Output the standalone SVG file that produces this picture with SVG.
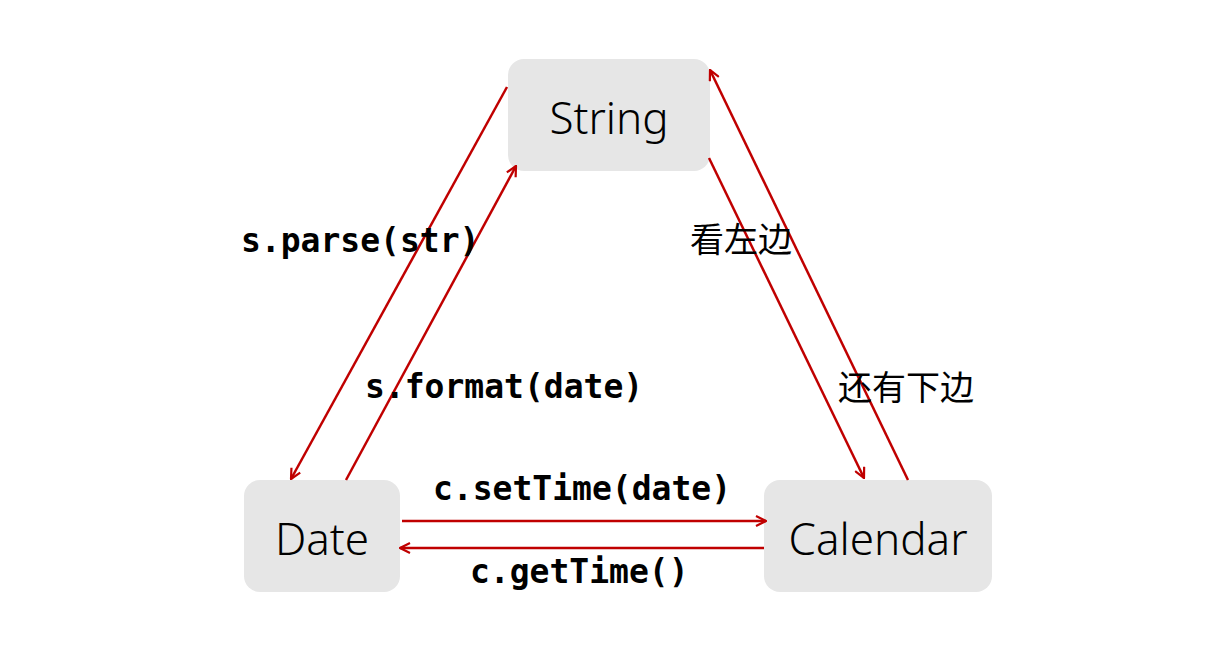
<svg xmlns="http://www.w3.org/2000/svg" width="1228" height="668" viewBox="0 0 1228 668">
<style>
.n{fill:#e6e6e6}
.t{font-family:"Noto Sans","Liberation Sans",sans-serif;font-weight:300;font-size:44px;fill:#000;text-anchor:middle}
.c{stroke:#c00000;stroke-width:2.5;fill:none;marker-end:url(#a)}
.m{font-family:"DejaVu Sans Mono","Liberation Mono",monospace;font-weight:bold;font-size:33px;fill:#000}
.z{font-family:"Noto Sans CJK SC",sans-serif;font-size:34px;fill:#000}
</style>
<defs><marker id="a" viewBox="0 0 12 12" refX="11" refY="6" markerWidth="12" markerHeight="12" markerUnits="userSpaceOnUse" orient="auto"><path d="M1,1 L11,6 L1,11" fill="none" stroke="#c00000" stroke-width="2.2"/></marker></defs>
<rect width="1228" height="668" fill="#fff"/>
<g id="string"><rect class="n" x="508" y="59" width="202" height="112" rx="16"/><text class="t" x="609" y="134">String</text></g>
<g id="date"><rect class="n" x="244" y="480" width="156" height="112" rx="16"/><text class="t" x="322" y="555">Date</text></g>
<g id="calendar"><rect class="n" x="764" y="480" width="228" height="112" rx="16"/><text class="t" x="878" y="555">Calendar</text></g>
<g id="connectors">
<line class="c" x1="507" y1="87" x2="291" y2="479"/>
<line class="c" x1="346" y1="480" x2="516" y2="166"/>
<line class="c" x1="709" y1="158" x2="864" y2="478"/>
<line class="c" x1="908" y1="480" x2="710" y2="70"/>
<line class="c" x1="402" y1="521" x2="766" y2="521"/>
<line class="c" x1="764" y1="548" x2="400" y2="548"/>
</g>
<text class="m" x="241" y="252">s.parse(str)</text>
<text class="m" x="365" y="398">s.format(date)</text>
<text class="m" x="433" y="500">c.setTime(date)</text>
<text class="m" x="470" y="583">c.getTime()</text>
<text class="z" x="690" y="252">看左边</text>
<text class="z" x="838" y="400">还有下边</text>
</svg>
